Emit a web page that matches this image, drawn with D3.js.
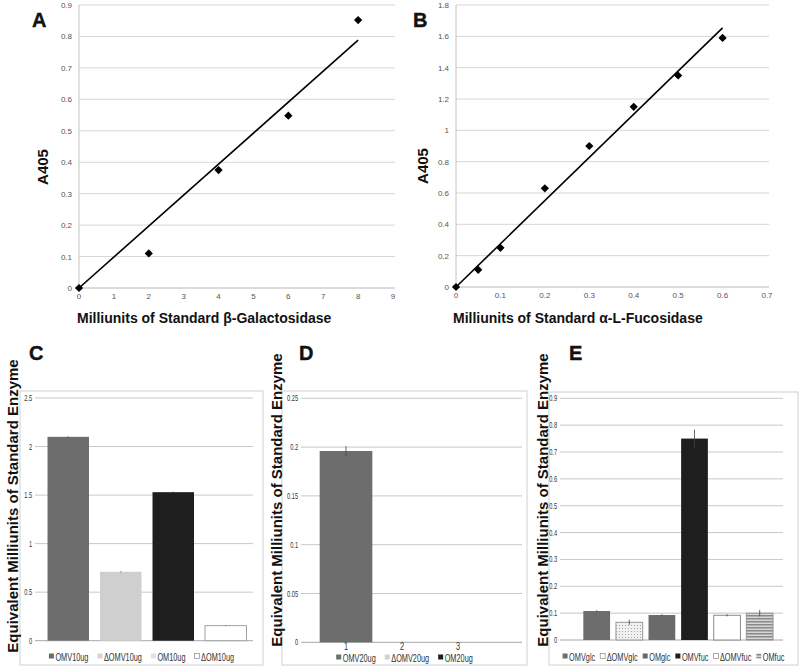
<!DOCTYPE html>
<html><head><meta charset="utf-8">
<script src="https://cdn.jsdelivr.net/npm/d3@7"></script>
<style>body{margin:0;background:#fff}svg{display:block}</style>
</head><body>
<svg id="chart" width="800" height="671"></svg>
<script>
// ---------- data ----------
const galX = [0, 2, 4, 6, 8];
const galY = [0, 0.11, 0.375, 0.548, 0.852];
const galXTicks = [0, 1, 2, 3, 4, 5, 6, 7, 8, 9];
const galYTicks = [0, 0.1, 0.2, 0.3, 0.4, 0.5, 0.6, 0.7, 0.8, 0.9];

const fucX = [0, 0.05, 0.1, 0.2, 0.3, 0.4, 0.5, 0.6];
const fucY = [0, 0.11, 0.25, 0.63, 0.9, 1.15, 1.35, 1.59];
const fucXTicks = [0, 0.1, 0.2, 0.3, 0.4, 0.5, 0.6, 0.7];
const fucYTicks = [0, 0.2, 0.4, 0.6, 0.8, 1, 1.2, 1.4, 1.6, 1.8];

const cCats = ["OMV10ug", "ΔOMV10ug", "OM10ug", "ΔOM10ug"];
const cVals = [2.10, 0.71, 1.53, 0.155];
const cErr = [0.005, 0.005, 0.006, 0.004];
const cTicks = [0, 0.5, 1, 1.5, 2, 2.5];

const dCats = ["1", "2", "3"];
const dSeries = ["OMV20ug", "ΔOMV20ug", "OM20ug"];
const dVals = [0.196, 0, 0];
const dErr = [0.005, 0, 0];
const dTicks = [0, 0.05, 0.1, 0.15, 0.2, 0.25];

const eCats = ["OMVglc", "ΔOMVglc", "OMglc", "OMVfuc", "ΔOMVfuc", "OMfuc"];
const eVals = [0.108, 0.066, 0.093, 0.75, 0.092, 0.1];
const eErr = [0.003, 0.01, 0.003, 0.033, 0.004, 0.012];
const eTicks = [0, 0.1, 0.2, 0.3, 0.4, 0.5, 0.6, 0.7, 0.8, 0.9];

// ---------- setup ----------
const svg = d3.select("#chart");
const FONT = "'Liberation Sans', Arial, sans-serif";
const fmt = v => String(+v.toFixed(3));
const defs = svg.append("defs");
const dots = defs.append("pattern").attr("id", "dots").attr("patternUnits", "userSpaceOnUse")
  .attr("width", 3).attr("height", 3);
dots.append("rect").attr("width", 3).attr("height", 3).attr("fill", "#f0f0f0");
dots.append("rect").attr("x", 1).attr("y", 1).attr("width", 1).attr("height", 1).attr("fill", "#a8a8a8");
const stripes = defs.append("pattern").attr("id", "stripes").attr("patternUnits", "userSpaceOnUse")
  .attr("width", 4).attr("height", 3);
stripes.append("rect").attr("width", 4).attr("height", 3).attr("fill", "#d6d6d6");
stripes.append("rect").attr("width", 4).attr("height", 1.5).attr("fill", "#8a8a8a");

function panelLabel(t, x, y) {
  svg.append("text").attr("x", x).attr("y", y).attr("font-family", FONT)
    .attr("font-weight", "bold").attr("font-size", 20).attr("fill", "#111")
    .attr("stroke", "#111").attr("stroke-width", 0.4).text(t);
}
function yTitle(t, x, y, size) {
  svg.append("text").attr("transform", `translate(${x},${y}) rotate(-90)`)
    .attr("text-anchor", "middle").attr("font-family", FONT).attr("font-weight", "bold")
    .attr("font-size", size).attr("fill", "#111").text(t);
}

// ---------- scatter panels ----------
function scatter(o) {
  const x = d3.scaleLinear().domain(o.xDom).range(o.xr);
  const y = d3.scaleLinear().domain(o.yDom).range(o.yr);
  const g = svg.append("g");
  g.selectAll(".grid").data(o.yT).join("line")
    .attr("x1", o.xr[0]).attr("x2", o.xr[1] + 2)
    .attr("y1", d => y(d)).attr("y2", d => y(d))
    .attr("stroke", d => d === 0 ? "#b8b8b8" : "#d6d6d6").attr("stroke-width", 1);
  g.append("line").attr("x1", o.xr[0]).attr("x2", o.xr[0])
    .attr("y1", y(o.yDom[1])).attr("y2", y(0)).attr("stroke", "#c4c4c4");
  g.selectAll(".yl").data(o.yT).join("text")
    .attr("x", o.xr[0] - 7).attr("y", d => y(d) + 3).attr("text-anchor", "end")
    .attr("font-family", FONT).attr("font-size", 8).attr("fill", "#555").text(fmt);
  g.selectAll(".xl").data(o.xT).join("text")
    .attr("x", d => x(d)).attr("y", y(0) + 11).attr("text-anchor", "middle")
    .attr("font-family", FONT).attr("font-size", 8).attr("fill", "#555").text(fmt);
  // trendline through origin (least squares)
  const slope = d3.sum(o.xs, (d, i) => d * o.ys[i]) / d3.sum(o.xs, d => d * d);
  const xmax = d3.max(o.xs);
  g.append("line").attr("x1", x(0)).attr("y1", y(0)).attr("x2", x(xmax)).attr("y2", y(slope * xmax))
    .attr("stroke", "#000").attr("stroke-width", 1.6);
  const sym = d3.symbol().type(d3.symbolSquare).size(34);
  g.selectAll(".pt").data(o.xs).join("path").attr("d", sym)
    .attr("transform", (d, i) => `translate(${x(d)},${y(o.ys[i])}) rotate(45)`)
    .attr("fill", "#000");
  g.append("text").attr("x", o.titleX).attr("y", 323).attr("font-family", FONT)
    .attr("font-weight", "bold").attr("font-size", 14).attr("fill", "#111").text(o.title);
}

scatter({ xs: galX, ys: galY, xT: galXTicks, yT: galYTicks, xDom: [0, 9], yDom: [0, 0.9],
  xr: [79, 393], yr: [288, 5], title: "Milliunits of Standard β-Galactosidase", titleX: 77 });
scatter({ xs: fucX, ys: fucY, xT: fucXTicks, yT: fucYTicks, xDom: [0, 0.7], yDom: [0, 1.8],
  xr: [456, 767], yr: [287, 5], title: "Milliunits of Standard α-L-Fucosidase", titleX: 453 });
panelLabel("A", 32, 27);
panelLabel("B", 413, 27);
yTitle("A405", 48, 167, 15);
yTitle("A405", 428, 166, 15);

// ---------- bar panels ----------
function narrowText(sel, x, y, txt, size, anchor, sx) {
  return sel.append("text").attr("transform", `translate(${x},${y}) scale(${sx || 0.74},1)`)
    .attr("text-anchor", anchor || "start").attr("font-family", FONT)
    .attr("font-size", size).attr("fill", "#333").text(txt);
}
function barPanel(o) {
  const g = svg.append("g");
  g.append("rect").attr("x", o.box[0]).attr("y", o.box[1])
    .attr("width", o.box[2] - o.box[0]).attr("height", o.box[3] - o.box[1])
    .attr("fill", "none").attr("stroke", "#d0d0d0");
  const y = d3.scaleLinear().domain([0, d3.max(o.ticks)]).range(o.yr);
  const x = d3.scaleBand().domain(o.cats).range(o.xr).paddingInner(o.pad).paddingOuter(o.pad / 2);
  g.selectAll(".grid").data(o.ticks).join("line")
    .attr("x1", o.gx[0]).attr("x2", o.gx[1]).attr("y1", d => y(d)).attr("y2", d => y(d))
    .attr("stroke", d => d === 0 ? "#a8a8a8" : "#c8c8c8");
  o.ticks.forEach(t => narrowText(g, o.gx[0] - 3, y(t) + 3, fmt(t), 8.5, "end", 0.66));
  g.selectAll(".bar").data(o.vals).join("rect")
    .attr("x", (d, i) => x(o.cats[i])).attr("width", x.bandwidth())
    .attr("y", d => y(d)).attr("height", d => y(0) - y(d))
    .attr("fill", (d, i) => o.fills[i]).attr("stroke", (d, i) => o.strokes[i]).attr("stroke-width", 1);
  g.selectAll(".err").data(o.vals).join("line")
    .filter((d, i) => o.err[i] > 0)
    .attr("x1", (d, i) => x(o.cats[i]) + x.bandwidth() / 2).attr("x2", (d, i) => x(o.cats[i]) + x.bandwidth() / 2)
    .attr("y1", (d, i) => y(d + o.err[i])).attr("y2", (d, i) => y(d - o.err[i]))
    .attr("stroke", "#444").attr("stroke-width", 0.8);
  if (o.catLabels) {
    o.catLabels.forEach(c => narrowText(g, x(c) + x.bandwidth() / 2, o.catY, c, 10, "middle"));
  }
  // legend
  const lg = g.append("g");
  let cx = 0;
  o.legend.forEach(L => {
    const it = lg.append("g");
    it.append("rect").attr("x", 0).attr("y", -3.5).attr("width", 5).attr("height", 5)
      .attr("fill", L.fill).attr("stroke", L.stroke || "none").attr("stroke-width", 0.7);
    const t = narrowText(it, 6.5, 3.5, L.name, 10.5, "start", 0.7);
    const w = 6.5 + t.node().getComputedTextLength() * 0.7;
    it.attr("transform", `translate(${cx},0)`);
    cx += w + o.legGap;
  });
  const total = cx - o.legGap;
  lg.attr("transform", `translate(${(o.box[0] + o.box[2]) / 2 - total / 2},${o.legY})`);
}

// C
barPanel({
  box: [20, 391, 263, 665], yr: [640.7, 398], ticks: cTicks, cats: cCats, vals: cVals, err: cErr,
  xr: [42, 252], pad: 0.21, gx: [35, 253],
  fills: ["#6d6d6d", "#cfcfcf", "#1e1e1e", "#ffffff"],
  strokes: ["none", "none", "none", "#a0a0a0"],
  legend: [{ name: cCats[0], fill: "#6d6d6d" }, { name: cCats[1], fill: "#d2d2d2" },
           { name: cCats[2], fill: "#e2e2e2" }, { name: cCats[3], fill: "#fff", stroke: "#888" }],
  legY: 657, legGap: 9
});
// D
barPanel({
  box: [282, 391, 527, 665], yr: [642.3, 398.3], ticks: dTicks, cats: dCats, vals: dVals, err: dErr,
  xr: [318, 486], pad: 0.06, gx: [301, 522],
  fills: ["#6d6d6d", "#cfcfcf", "#1e1e1e"], strokes: ["none", "none", "none"],
  catLabels: dCats, catY: 650,
  legend: [{ name: dSeries[0], fill: "#6d6d6d" }, { name: dSeries[1], fill: "#d2d2d2" },
           { name: dSeries[2], fill: "#1e1e1e" }],
  legY: 658, legGap: 9
});
// E
barPanel({
  box: [549, 392, 798, 665], yr: [640, 398.3], ticks: eTicks, cats: eCats, vals: eVals, err: eErr,
  xr: [580.4, 776], pad: 0.18, gx: [560, 783],
  fills: ["#6d6d6d", "url(#dots)", "#6a6a6a", "#1e1e1e", "#ffffff", "url(#stripes)"],
  strokes: ["none", "#9a9a9a", "none", "none", "#8a8a8a", "#9a9a9a"],
  legend: [{ name: eCats[0], fill: "#6d6d6d" }, { name: eCats[1], fill: "#fff", stroke: "#888" },
           { name: eCats[2], fill: "#6a6a6a" }, { name: eCats[3], fill: "#1e1e1e" },
           { name: eCats[4], fill: "#fff", stroke: "#888" }, { name: eCats[5], fill: "url(#stripes)" }],
  legY: 657, legGap: 5
});
panelLabel("C", 29, 360);
panelLabel("D", 299, 360);
panelLabel("E", 569, 360);
const ytC = "Equivalent Milliunits of Standard Enzyme";
yTitle(ytC, 17.5, 506, 15);
yTitle(ytC, 282, 500, 15);
yTitle(ytC, 547.5, 500, 15);
</script>
</body></html>
